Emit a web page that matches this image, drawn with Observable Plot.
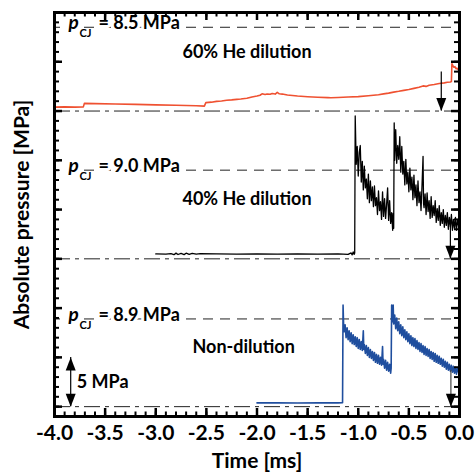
<!DOCTYPE html>
<html><head><meta charset="utf-8">
<script src="https://cdn.jsdelivr.net/npm/d3@7"></script>
<script src="https://cdn.jsdelivr.net/npm/@observablehq/plot@0.6"></script>
<style>
body{margin:0;background:#fff;}
#chart svg{font-family:Lato,"Open Sans",sans-serif;font-weight:bold;}
</style>
</head><body><div id="chart"></div>
<script>
// ---------- data ----------
const xTickValues = [-4, -3.5, -3, -2.5, -2, -1.5, -1, -0.5, 0];
const xTickLabels = ["-4.0", "-3.5", "-3.0", "-2.5", "-2.0", "-1.5", "-1.0", "-0.5", "0.0"];
const seriesNames = ["60% He dilution", "40% He dilution", "Non-dilution"];
const pCJ = [8.5, 9.0, 8.9];
const scaleBarMPa = 5;

// 60% He dilution (MPa above its baseline)
const he60Time = [-4.0, -3.9, -3.8, -3.715, -3.705, -3.6, -3.4, -3.2, -3.0, -2.8, -2.6, -2.52, -2.505,
  -2.45, -2.4, -2.35, -2.3, -2.25, -2.2, -2.16, -2.1, -2.05, -2.0, -1.97, -1.95, -1.92, -1.9, -1.87, -1.85,
  -1.82, -1.8, -1.78, -1.75, -1.7, -1.65, -1.6, -1.5, -1.4, -1.3, -1.27, -1.2, -1.1, -1.0, -0.9, -0.85,
  -0.8, -0.75, -0.7, -0.65, -0.6, -0.55, -0.5, -0.45, -0.4, -0.36, -0.33, -0.3, -0.25, -0.2, -0.15,
  -0.12, -0.09, -0.08, -0.075, -0.065, -0.055, -0.045, -0.035, -0.025, -0.015, -0.005];
const he60P = [0.4, 0.42, 0.4, 0.42, 0.78, 0.75, 0.72, 0.68, 0.63, 0.58, 0.54, 0.5, 0.85,
  0.9, 0.98, 1.02, 1.1, 1.13, 1.18, 1.22, 1.3, 1.42, 1.52, 1.6, 1.75, 1.68, 1.72, 1.7, 1.78,
  1.72, 1.9, 1.75, 1.72, 1.62, 1.58, 1.52, 1.45, 1.4, 1.36, 1.35, 1.37, 1.42, 1.46, 1.55, 1.6,
  1.66, 1.74, 1.82, 1.92, 2.0, 2.1, 2.18, 2.3, 2.42, 2.55, 2.5, 2.62, 2.7, 2.8, 2.86,
  2.92, 2.95, 3.0, 4.8, 4.6, 4.45, 4.5, 4.3, 4.35, 4.2, 4.15];

// 40% He dilution
const he40Time = [-3.0, -2.9, -2.85, -2.82, -2.8, -2.78, -2.75, -2.72, -2.7, -2.67, -2.64, -2.6, -2.56,
  -2.4, -2.2, -2.0, -1.8, -1.6, -1.4, -1.2, -1.1, -1.07, -1.06, -1.05, -1.04, -1.035,
  -1.03, -1.02, -1.01, -1.00, -0.99, -0.98, -0.97, -0.96, -0.95, -0.94, -0.93, -0.92, -0.91, -0.90,
  -0.89, -0.88, -0.87, -0.86, -0.85, -0.84, -0.83, -0.82, -0.81, -0.80, -0.79, -0.78, -0.77, -0.76,
  -0.75, -0.74, -0.73, -0.72, -0.71, -0.70, -0.69, -0.68, -0.67, -0.66, -0.655, -0.65, -0.645,
  -0.64, -0.63, -0.62, -0.61, -0.60, -0.59, -0.58, -0.57, -0.56, -0.55, -0.54, -0.53, -0.52, -0.51,
  -0.50, -0.49, -0.48, -0.47, -0.46, -0.45, -0.44, -0.43, -0.42, -0.41, -0.40, -0.39, -0.38, -0.37,
  -0.36, -0.355, -0.35, -0.34, -0.33, -0.32, -0.31, -0.30, -0.29, -0.28, -0.27, -0.26, -0.25, -0.24,
  -0.23, -0.22, -0.21, -0.20, -0.19, -0.18, -0.17, -0.16, -0.15, -0.14, -0.13, -0.12, -0.11, -0.10,
  -0.09, -0.08, -0.07, -0.06, -0.05, -0.04, -0.03, -0.02, -0.01];
const he40P = [0.5, 0.47, 0.53, 0.42, 0.58, 0.44, 0.56, 0.43, 0.57, 0.45, 0.55, 0.47, 0.52,
  0.5, 0.48, 0.5, 0.47, 0.5, 0.48, 0.5, 0.45, 0.6, 0.4, 0.7, 0.45, 0.6,
  14.5, 9.6, 11.4, 8.4, 10.8, 11.5, 7.8, 9.9, 7.0, 9.4, 7.2, 8.1, 6.1, 8.6,
  5.7, 7.9, 5.9, 7.3, 5.3, 7.4, 5.4, 6.2, 4.5, 6.9, 4.9, 5.8, 4.0, 6.8,
  4.3, 6.1, 4.1, 5.5, 7.2, 3.9, 5.9, 3.6, 4.7, 2.9, 4.6, 3.1, 13.8,
  10.0, 13.1, 9.7, 11.5, 10.1, 12.4, 8.8, 11.4, 8.6, 9.9, 7.5, 10.1, 7.6, 8.8,
  6.8, 9.2, 7.0, 8.3, 6.0, 8.5, 6.2, 7.5, 5.4, 7.9, 5.7, 6.8, 4.9, 7.5,
  10.4, 5.6, 5.2, 6.6, 4.5, 6.7, 4.8, 5.9, 4.1, 6.3, 4.2, 5.4, 4.4, 5.9,
  3.7, 5.1, 3.9, 5.4, 3.4, 4.7, 3.6, 5.0, 3.2, 4.4, 3.4, 4.7, 3.0, 4.2,
  3.3, 4.5, 2.9, 4.0, 3.1, 4.2, 2.9, 3.9, 3.4];

// Non-dilution
const nonTime = [-2.0, -1.8, -1.6, -1.4, -1.2, -1.155,
  -1.15, -1.145, -1.14, -1.13, -1.12, -1.11, -1.10, -1.09, -1.08, -1.07, -1.06, -1.05, -1.04, -1.03,
  -1.02, -1.01, -1.00, -0.99, -0.98, -0.97, -0.96, -0.95, -0.945, -0.94, -0.93, -0.92, -0.91, -0.90,
  -0.89, -0.88, -0.87, -0.86, -0.85, -0.84, -0.83, -0.82, -0.81, -0.80, -0.79, -0.78, -0.77, -0.76,
  -0.755, -0.75, -0.74, -0.73, -0.72, -0.71, -0.70, -0.69, -0.68, -0.675, -0.67, -0.665, -0.66, -0.655,
  -0.65, -0.64, -0.63, -0.62, -0.61, -0.60, -0.59, -0.58, -0.57, -0.56, -0.55, -0.54, -0.53, -0.52,
  -0.51, -0.50, -0.49, -0.48, -0.47, -0.46, -0.45, -0.44, -0.43, -0.42, -0.41, -0.40, -0.39, -0.38,
  -0.37, -0.36, -0.35, -0.34, -0.33, -0.32, -0.31, -0.30, -0.29, -0.28, -0.27, -0.26, -0.25, -0.24,
  -0.23, -0.22, -0.21, -0.20, -0.19, -0.18, -0.17, -0.16, -0.15, -0.14, -0.13, -0.12, -0.11, -0.10,
  -0.09, -0.08, -0.07, -0.06, -0.05, -0.04, -0.03, -0.02, -0.01];
const nonP = [0.38, 0.38, 0.37, 0.38, 0.38, 0.4,
  10.3, 8.4, 7.6, 8.3, 7.0, 8.0, 6.8, 7.7, 6.6, 7.5, 6.4, 7.3, 6.3, 7.1,
  6.1, 7.0, 5.9, 6.8, 5.8, 6.6, 5.7, 7.7, 5.8, 6.3, 5.4, 6.2, 5.2, 6.0,
  5.0, 5.8, 4.9, 5.6, 4.7, 5.5, 4.5, 5.3, 4.4, 5.2, 4.3, 5.0, 4.2, 6.1,
  4.3, 4.8, 3.9, 4.7, 3.7, 4.5, 3.6, 4.3, 3.4, 3.9, 10.3, 8.6, 9.0, 10.3,
  8.4, 9.3, 7.9, 9.0, 7.7, 8.6, 7.4, 8.3, 7.2, 8.1, 7.0, 7.8, 6.8, 7.6,
  6.6, 7.4, 6.4, 7.2, 6.2, 7.0, 6.1, 6.9, 5.9, 6.7, 5.8, 6.5, 5.6, 6.4,
  5.5, 6.2, 5.3, 6.1, 5.2, 5.9, 5.1, 5.8, 4.9, 5.6, 4.8, 5.5, 4.6, 5.4,
  4.5, 5.2, 4.4, 5.1, 4.3, 4.9, 4.1, 4.8, 4.0, 4.6, 3.8, 4.5, 3.7, 4.3,
  3.6, 4.2, 3.5, 4.1, 3.4, 4.0, 3.3, 3.9, 3.5];

// annotation arrows: time and pressure (above baseline) where each arrow starts
const arrowTime = [-0.18, -0.09, -0.085];
const arrowFrom = [3.96, 3.3, 3.67];

// ---------- layout / style ----------
const offsets = [30, 15, 0];
const labelTime = [-2.736, -2.736, -2.637];
const colors = ["#ef5131", "#000000", "#1f4e9e"];
const arrowColors = ["#000", "#000", "#444"];
const W = 476, H = 475, mL = 54, mR = 17, mT = 12, mB = 59;
const fw = W - mL - mR, fh = H - mT - mB;
const xDom = [-4, 0], yDom = [-1, 40];
const xPerPx = (xDom[1] - xDom[0]) / fw, yPerPx = (yDom[1] - yDom[0]) / fh;
const tickColor = "black";

const traces = [[he60Time, he60P], [he40Time, he40P], [nonTime, nonP]];
const lines = traces.map(([t, p], i) => t.map((ti, j) => ({t: ti, p: p[j] + offsets[i]})));

const xMinor = d3.range(-40, 1).map(d => d / 10);
const yMajor = d3.range(0, 41, 5);
const yMinor = d3.range(-1, 41);

const headDown = {draw(ctx) { ctx.moveTo(0, 0); ctx.lineTo(-5, -13); ctx.lineTo(5, -13); ctx.closePath(); }};

const idx = [0, 1, 2];
const txt = {fontWeight: "bold", fill: "black"};
const xTicks = (vals, len, w) => [
  Plot.ruleX(vals, {x: d => d, y1: yDom[0], y2: yDom[0] + len * yPerPx, stroke: tickColor, strokeWidth: w}),
  Plot.ruleX(vals, {x: d => d, y1: yDom[1], y2: yDom[1] - len * yPerPx, stroke: tickColor, strokeWidth: w})
];
const yTicks = (vals, len, w) => [
  Plot.ruleY(vals, {y: d => d, x1: xDom[0], x2: xDom[0] + len * xPerPx, stroke: tickColor, strokeWidth: w}),
  Plot.ruleY(vals, {y: d => d, x1: xDom[1], x2: xDom[1] - len * xPerPx, stroke: tickColor, strokeWidth: w})
];

const marks = [
  Plot.ruleY(idx, {y: i => offsets[i], stroke: "#222", strokeWidth: 1, strokeDasharray: "16,5,4,5"}),
  Plot.ruleY(idx, {y: i => offsets[i] + pCJ[i], stroke: "#222", strokeWidth: 1, strokeDasharray: "10,7", strokeDashoffset: 4}),
  ...lines.map((d, i) => Plot.line(d, {x: "t", y: "p", stroke: colors[i], strokeWidth: i === 1 ? 1.3 : 1.6})),
  Plot.ruleX(idx, {x: i => arrowTime[i], y1: i => offsets[i] + arrowFrom[i], y2: i => offsets[i], stroke: i => arrowColors[i], strokeWidth: 1.2}),
  Plot.vector(idx, {x: i => arrowTime[i], y: i => offsets[i], length: 13, rotate: 0, anchor: "start", shape: headDown, fill: "black", stroke: "none"}),
  Plot.ruleX([0], {x: -3.84, y1: 0, y2: scaleBarMPa, stroke: "black", strokeWidth: 1.2}),
  Plot.vector([0], {x: -3.84, y: 0, length: 13, rotate: 0, anchor: "start", shape: headDown, fill: "black", stroke: "none"}),
  Plot.vector([0], {x: -3.84, y: scaleBarMPa, length: 13, rotate: 180, anchor: "start", shape: headDown, fill: "black", stroke: "none"}),
  Plot.text([`${scaleBarMPa} MPa`], {x: -3.84, y: scaleBarMPa / 2, dx: 6, textAnchor: "start", fontSize: 18, ...txt}),
  Plot.text(idx, {x: i => labelTime[i], y: i => offsets[i] + 6, text: i => seriesNames[i], textAnchor: "start", fontSize: 18, ...txt}),
  Plot.text(idx, {x: -4, y: i => offsets[i] + pCJ[i], text: i => `= ${pCJ[i].toFixed(1)} MPa`, dx: 44, dy: -4, textAnchor: "start", fontSize: 18, stroke: "white", strokeWidth: 6, ...txt}),
  Plot.text(idx, {x: -4, y: i => offsets[i] + pCJ[i], text: () => "p", dx: 14, dy: -4, textAnchor: "start", fontSize: 19, fontStyle: "italic", stroke: "white", strokeWidth: 5, ...txt}),
  Plot.text(idx, {x: -4, y: i => offsets[i] + pCJ[i], text: () => "CJ", dx: 25, dy: 6.5, textAnchor: "start", fontSize: 11, fontStyle: "normal", ...txt}),
  Plot.frame({stroke: "black", strokeWidth: 3}),
  ...xTicks(xMinor, 4.5, 2),
  ...xTicks(xTickValues, 8, 2.5),
  ...yTicks(yMinor, 5, 2),
  ...yTicks(yMajor, 8, 2.5),
  Plot.text(xTickValues, {x: d => d, text: (d, i) => xTickLabels[i], frameAnchor: "bottom", lineAnchor: "middle", textAnchor: "middle", dy: 17, fontSize: 21, ...txt}),
  Plot.text(["Time [ms]"], {frameAnchor: "bottom", lineAnchor: "middle", textAnchor: "middle", dy: 45, fontSize: 21, ...txt}),
  Plot.text(["Absolute pressure [MPa]"], {frameAnchor: "left", lineAnchor: "middle", textAnchor: "middle", dx: -32, rotate: -90, fontSize: 21, ...txt})
];

const chart = Plot.plot({
  width: W, height: H,
  marginLeft: mL, marginRight: mR, marginTop: mT, marginBottom: mB,
  x: {domain: xDom, axis: null},
  y: {domain: yDom, axis: null},
  style: {background: "white", overflow: "visible"},
  marks
});
document.getElementById("chart").appendChild(chart);
</script></body></html>
